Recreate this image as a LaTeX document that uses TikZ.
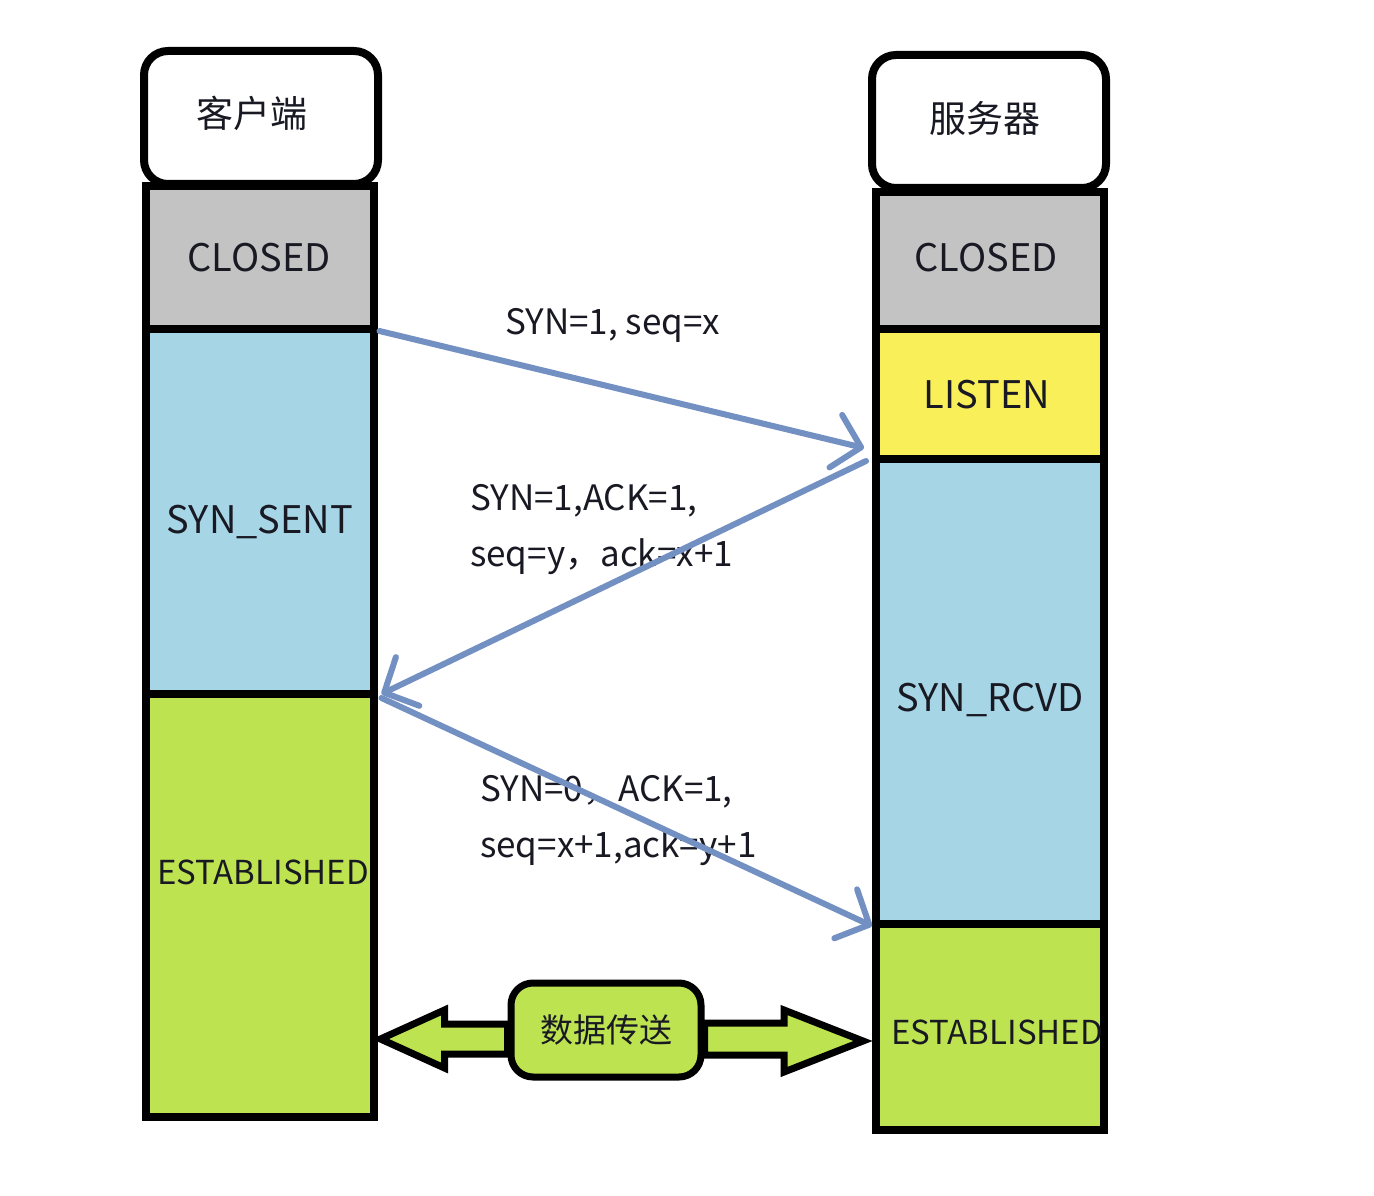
\documentclass[tikz,border=0pt]{standalone}
\usepackage{fontspec}
\setmainfont{Noto Sans CJK SC}
\usetikzlibrary{arrows.meta,calc}
\definecolor{gr}{RGB}{195,195,195}
\definecolor{bl}{RGB}{166,214,230}
\definecolor{ye}{RGB}{249,239,88}
\definecolor{gn}{RGB}{189,228,80}
\definecolor{ar}{RGB}{115,144,194}
\definecolor{tx}{RGB}{25,25,35}
\begin{document}
\begin{tikzpicture}[x=1pt,y=-1pt,
  statebox/.style={draw=black, line width=8pt, anchor=north, minimum width=228pt, inner sep=0pt},
  headbox/.style={draw=black, line width=8pt, rounded corners=24pt, fill=white, anchor=north, minimum width=234pt, minimum height=133pt, inner sep=0pt},
  sttext/.style={font=\fontsize{38}{40}\selectfont, text=tx, inner sep=0pt},
  esttext/.style={font=\fontsize{33}{40}\selectfont, text=tx, inner sep=0pt},
  hdtext/.style={font=\fontsize{37}{40}\selectfont, text=tx, inner sep=0pt},
  msg/.style={draw=ar, line width=6pt, line cap=round, -{Straight Barb[length=26pt,width=54pt,round]}},
  lbl/.style={anchor=west, font=\fontsize{35}{56}\selectfont, text=tx, inner sep=0pt, align=left},
  dbox/.style={draw=black, line width=7pt, fill=gn, rounded corners=22pt, minimum width=190pt, minimum height=94pt, inner sep=0pt, font=\fontsize{33}{40}\selectfont, text=tx},
  darrow/.style={draw=black, line width=7pt, fill=gn, line join=miter}]
\useasboundingbox (0,0) rectangle (1374,1196);
\fill[white] (0,0) rectangle (1374,1196);

% client column
\node[headbox] (cH) at (261,47) {};
\node[statebox, fill=gr, minimum height=143pt] (cC) at (259.5,182) {};
\node[statebox, fill=bl, minimum height=365pt] (cB) at (259.5,325) {};
\node[statebox, fill=gn, minimum height=423pt] (cE) at (259.5,690) {};
\node[hdtext] (tcH) at (252,113) {客户端};
\node[sttext] (tcC) at (259,258) {CLOSED};
\node[sttext] (tcB) at (260,522) {SYN\_SENT};
\node[esttext] (tcE) at (263,872) {ESTABLISHED};

% server column
\node[headbox] (sH) at (989,51) {};
\node[statebox, fill=gr, minimum height=137pt] (sC) at (990,188) {};
\node[statebox, fill=ye, minimum height=130pt] (sL) at (990,325) {};
\node[statebox, fill=bl, minimum height=465pt] (sB) at (990,455) {};
\node[statebox, fill=gn, minimum height=206pt] (sE) at (990,920) {};
\node[hdtext] (tsH) at (985,118) {服务器};
\node[sttext] (tsC) at (986,258) {CLOSED};
\node[sttext] (tsL) at (987,395) {LISTEN};
\node[sttext] (tsB) at (990,700) {SYN\_RCVD};
\node[esttext] (tsE) at (997,1032) {ESTABLISHED};

% labels
\node[lbl] (l1) at (505,325) {SYN=1, seq=x};
\node[lbl] (l2) at (470,530) {SYN=1,ACK=1,\\seq=y，ack=x+1};
\node[lbl] (l3) at (480,821) {SYN=0，ACK=1,\\seq=x+1,ack=y+1};

% handshake messages
\draw[msg] ($(cC.south east)+(2,-2)$) -- ($(sL.south west)+(-8,-15)$);
\draw[msg] ($(sL.south west)+(-6,-2)$) -- ($(cB.south east)+(4,-4)$);
\draw[msg] ($(cB.south east)+(4,0)$) -- ($(sB.south west)+(0,-2)$);

% data transfer
\node[dbox] (dt) at (606,1030) {数据传送};
\coordinate (lt) at ($(cE.east |- dt.center)+(3,9)$);
\coordinate (rt) at ($(sE.west |- dt.center)+(-9,11)$);
\draw[darrow] (lt) -- ++(64,-29) -- ++(0,14) -- ($(lt -| dt.west)+(0,-15)$) -- ($(lt -| dt.west)+(0,15)$) -- ($(lt)+(64,15)$) -- ++(0,14) -- cycle;
\draw[darrow] (rt) -- ++(-79,-31) -- ++(0,13) -- ($(rt -| dt.east)+(0,-18)$) -- ($(rt -| dt.east)+(0,14)$) -- ($(rt)+(-79,14)$) -- ++(0,17) -- cycle;
\end{tikzpicture}
\end{document}
